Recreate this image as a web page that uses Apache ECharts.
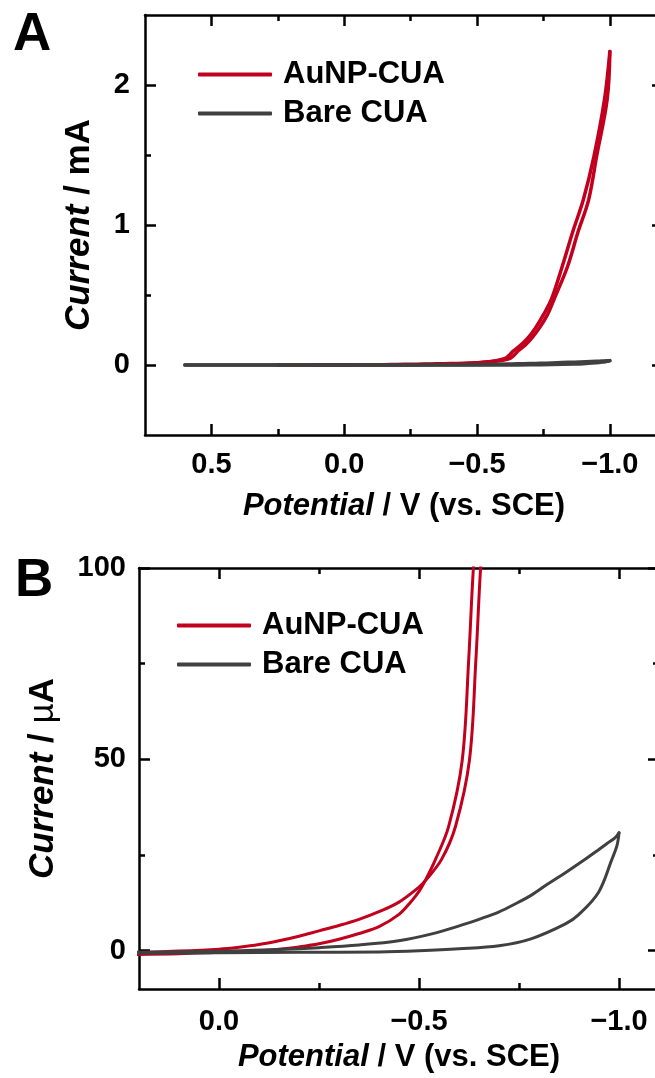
<!DOCTYPE html>
<html><head><meta charset="utf-8">
<script src="https://cdn.jsdelivr.net/npm/echarts@6/dist/echarts.min.js"></script>
<style>html,body{margin:0;padding:0;background:#fff}#c{width:655px;height:1078px}</style>
</head><body><div id="c"></div>
<script>
const seriesNames = ['AuNP-CUA', 'Bare CUA'];
// AuNP-CUA cyclic voltammogram, potential (V vs. SCE) and current (µA)
// forward (cathodic) sweep
const redFwdPotential = [0.25, 0.1, 0.0, -0.1, -0.15, -0.2, -0.25, -0.3, -0.35, -0.4, -0.45, -0.48, -0.5, -0.515, -0.541, -0.574, -0.608, -0.624, -0.636, -0.66, -0.69, -0.72, -0.75, -0.78, -0.82, -0.86, -0.90, -0.94, -0.98, -1.0];
const redFwdCurrent = [-1.0, -0.8, -0.4, 0.0, 0.4, 1.0, 1.8, 3.0, 4.5, 6.3, 9.5, 12.8, 15.5, 18.2, 23.8, 32.4, 49.7, 75.6, 100, 135, 190, 265, 360, 470, 700, 950, 1180, 1490, 1900, 2240];
// reverse sweep
const redRevPotential = [-1.0, -0.99, -0.95, -0.92, -0.88, -0.84, -0.79, -0.765, -0.735, -0.705, -0.68, -0.654, -0.642, -0.626, -0.591, -0.556, -0.515, -0.5, -0.45, -0.4, -0.35, -0.3, -0.25, -0.2, -0.15, -0.1, -0.05, 0.0, 0.1, 0.25];
const redRevCurrent = [2240, 1900, 1490, 1180, 950, 700, 470, 360, 265, 190, 140, 100, 75.6, 49.7, 32.4, 23.8, 18.2, 16.6, 12.7, 10.2, 8.2, 6.6, 5.2, 3.8, 2.6, 1.6, 0.9, 0.4, -0.1, -0.6];
// Bare CUA cyclic voltammogram, potential (V vs. SCE) and current (µA)
const grayFwdPotential = [0.6, 0.4, 0.2, 0.0, -0.2, -0.4, -0.5, -0.6, -0.7, -0.78, -0.866, -0.9, -0.949, -0.982, -0.995, -1.0];
const grayFwdCurrent = [-0.6, -0.6, -0.6, -0.5, -0.4, -0.3, 0.0, 0.5, 1.3, 3.1, 7.0, 9.5, 15.3, 23.8, 27.5, 30.8];
const grayRevPotential = [-1.0, -0.99, -0.97, -0.949, -0.91, -0.866, -0.82, -0.782, -0.74, -0.699, -0.65, -0.616, -0.532, -0.449, -0.35, -0.25, -0.15, -0.05, 0.05, 0.2, 0.4, 0.6];
const grayRevCurrent = [30.8, 29.5, 28.0, 26.4, 23.5, 20.4, 17.3, 14.6, 12.2, 10.1, 8.2, 7.0, 4.4, 2.6, 1.5, 0.8, 0.3, 0.0, -0.2, -0.4, -0.5, -0.5];

const xTicksA = [0.5, 0.0, -0.5, -1.0];
const xMinorA = [0.25, -0.25, -0.75];
const yTicksA = [0, 1, 2];
const yMinorA = [0.5, 1.5];
const xTicksB = [0.0, -0.5, -1.0];
const xMinorB = [-0.25, -0.75];
const yTicksB = [0, 50, 100];
const yMinorB = [25, 75];

const RED = '#C2001E';
const GRAY = '#404040';
const FONT = '"Liberation Sans", Arial, Helvetica, sans-serif';
const BLACK = '#000';

function fmtX(v) {
  const s = Math.abs(v).toFixed(1);
  return v < -1e-9 ? '\u2212' + s : s;
}
function fmtY(v) { return String(Math.round(v)); }

function tickStyle(len, vals) {
  return {show: true, inside: true, length: len, customValues: vals, lineStyle: {color: BLACK, width: 2.5}};
}

function makeX(gi, min, max, major, minor, margin, nameGap) {
  const line = {show: true, onZero: false, lineStyle: {color: BLACK, width: 2.5}};
  const base = {gridIndex: gi, type: 'value', min: min, max: max, inverse: true, splitLine: {show: false}};
  return [
    Object.assign({}, base, {
      position: 'bottom', axisLine: line, axisTick: tickStyle(11, major),
      axisLabel: {show: true, customValues: major, margin: margin, formatter: fmtX, fontSize: 29, fontWeight: 'bold', color: BLACK, fontFamily: FONT},
      name: '{i|Potential} / V (vs. SCE)', nameLocation: 'middle', nameGap: nameGap,
      nameTextStyle: {fontSize: 31, fontWeight: 'bold', color: BLACK, fontFamily: FONT,
        rich: {i: {fontSize: 31, fontWeight: 'bold', fontStyle: 'italic', color: BLACK, fontFamily: FONT}}}
    }),
    Object.assign({}, base, {position: 'top', axisLine: line, axisTick: tickStyle(11, major), axisLabel: {show: false}}),
    Object.assign({}, base, {position: 'bottom', axisLine: {show: false, onZero: false}, axisTick: tickStyle(6, minor), axisLabel: {show: false}}),
    Object.assign({}, base, {position: 'top', axisLine: {show: false, onZero: false}, axisTick: tickStyle(6, minor), axisLabel: {show: false}})
  ];
}

function makeY(gi, min, max, major, minor, margin, name, nameGap, rich) {
  const line = {show: true, onZero: false, lineStyle: {color: BLACK, width: 2.5}};
  const base = {gridIndex: gi, type: 'value', min: min, max: max, splitLine: {show: false}};
  return [
    Object.assign({}, base, {
      position: 'left', axisLine: line, axisTick: tickStyle(11, major),
      axisLabel: {show: true, customValues: major, margin: margin, formatter: fmtY, fontSize: 29, fontWeight: 'bold', color: BLACK, fontFamily: FONT},
      name: name, nameLocation: 'middle', nameGap: nameGap, nameRotate: 90,
      nameTextStyle: {fontSize: 35, fontWeight: 'bold', color: BLACK, fontFamily: FONT, rich: rich}
    }),
    Object.assign({}, base, {position: 'right', axisLine: line, axisTick: tickStyle(11, major), axisLabel: {show: false}}),
    Object.assign({}, base, {position: 'left', axisLine: {show: false, onZero: false}, axisTick: tickStyle(6, minor), axisLabel: {show: false}}),
    Object.assign({}, base, {position: 'right', axisLine: {show: false, onZero: false}, axisTick: tickStyle(6, minor), axisLabel: {show: false}})
  ];
}

const richY = {
  i: {fontSize: 35, fontWeight: 'bold', fontStyle: 'italic', color: BLACK, fontFamily: FONT},
  b: {fontSize: 35, fontWeight: 'bold', color: BLACK, fontFamily: FONT},
  m: {fontSize: 35, fontWeight: 'normal', color: BLACK, fontFamily: FONT}
};

function pairs(E, I, scale) { return E.map(function (e, k) { return [e, I[k] * scale]; }); }

function legendFor(left, top) {
  return {
    left: left, top: top, orient: 'vertical', icon: 'roundRect', itemWidth: 74, itemHeight: 4, itemGap: 8,
    data: seriesNames, selectedMode: false,
    textStyle: {fontSize: 31, fontWeight: 'bold', color: BLACK, fontFamily: FONT, lineHeight: 30, padding: [0, 0, 0, 6]}
  };
}

function sweep(name, xi, E, I, scale, color, width, z) {
  return {name: name, type: 'line', xAxisIndex: xi, yAxisIndex: xi, data: pairs(E, I, scale),
    smooth: 0.35, symbol: 'none', showSymbol: false,
    lineStyle: {color: color, width: width, cap: 'round', join: 'round'}, itemStyle: {color: color}, z: z};
}

const option = {
  animation: false,
  backgroundColor: '#fff',
  grid: [
    {left: 145, top: 15, width: 518, height: 420, containLabel: false, outerBoundsMode: 'none'},
    {left: 139, top: 568, width: 520, height: 421, containLabel: false, outerBoundsMode: 'none'}
  ],
  xAxis: makeX(0, -1.2, 0.75, xTicksA, xMinorA, 15, 56).concat(makeX(1, -1.1, 0.2, xTicksB, xMinorB, 18, 53)),
  yAxis: makeY(0, -0.5, 2.5, yTicksA, yMinorA, 15, '{i|Current} {b|/ mA}', 48, richY)
    .concat(makeY(1, -10, 100, yTicksB, yMinorB, 13, '{i|Current} {b|/} {m|\u00B5}{b|A}', 78, richY)),
  legend: [legendFor(193, 54), legendFor(172, 605)],
  graphic: [
    {type: 'text', style: {x: 13, y: 35, text: 'A', fontSize: 53, fontWeight: 'bold', fontFamily: FONT, fill: BLACK, verticalAlign: 'middle'}},
    {type: 'text', style: {x: 15, y: 581, text: 'B', fontSize: 53, fontWeight: 'bold', fontFamily: FONT, fill: BLACK, verticalAlign: 'middle'}}
  ],
  series: [
    sweep(seriesNames[0], 0, redFwdPotential, redFwdCurrent, 0.001, RED, 3.5, 2),
    sweep(seriesNames[0], 0, redRevPotential, redRevCurrent, 0.001, RED, 3.5, 2),
    sweep(seriesNames[1], 0, grayFwdPotential, grayFwdCurrent, 0.001, GRAY, 3.5, 3),
    sweep(seriesNames[1], 0, grayRevPotential, grayRevCurrent, 0.001, GRAY, 3.5, 3),
    sweep(seriesNames[0], 4, redFwdPotential, redFwdCurrent, 1, RED, 3, 2),
    sweep(seriesNames[0], 4, redRevPotential, redRevCurrent, 1, RED, 3, 2),
    sweep(seriesNames[1], 4, grayFwdPotential, grayFwdCurrent, 1, GRAY, 3, 3),
    sweep(seriesNames[1], 4, grayRevPotential, grayRevCurrent, 1, GRAY, 3, 3)
  ]
};

const chart = echarts.init(document.getElementById('c'), null, {renderer: 'canvas'});
chart.setOption(option);
</script>
</body></html>
